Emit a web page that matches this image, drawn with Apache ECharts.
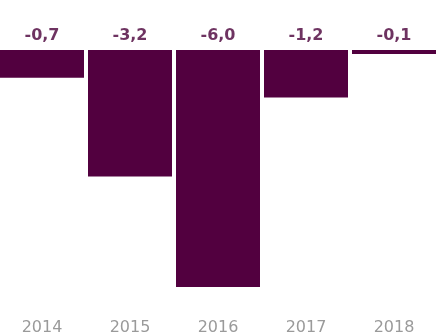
<!DOCTYPE html>
<html><head><meta charset="utf-8">
<script src="https://cdn.jsdelivr.net/npm/echarts@6/dist/echarts.min.js"></script>
<style>html,body{margin:0;padding:0;background:#fff;overflow:hidden}#c{position:absolute;left:-2px;top:0;width:440px;height:336px}</style>
</head><body><div id="c"></div>
<script>
const categories = ['2014', '2015', '2016', '2017', '2018'];
const values = [-0.7, -3.2, -6.0, -1.2, -0.1];
const zeros = [0, 0, 0, 0, 0];

const barColor = '#52003F';
const chart = echarts.init(document.getElementById('c'));
chart.setOption({
  animation: false,
  grid: { left: 0, right: 0, top: 50, bottom: 48 },
  xAxis: {
    type: 'category', data: categories,
    axisLine: { show: false }, axisTick: { show: false },
    axisLabel: { color: '#9a9a9a', fontSize: 16, fontFamily: 'DejaVu Sans', margin: 33, lineHeight: 16 }
  },
  yAxis: { type: 'value', min: -6, max: 0, show: false, splitLine: { show: false } },
  series: [
    { type: 'bar', data: values, barWidth: 84, itemStyle: { color: barColor } },
    { type: 'scatter', data: zeros, symbolSize: 0, silent: true,
      label: { show: true, position: 'top', distance: 6, color: '#4a0039', fontSize: 16, fontWeight: 'bold', fontFamily: 'DejaVu Sans',
        formatter: p => values[p.dataIndex].toFixed(1).replace('.', ',') } }
  ]
});
</script></body></html>
